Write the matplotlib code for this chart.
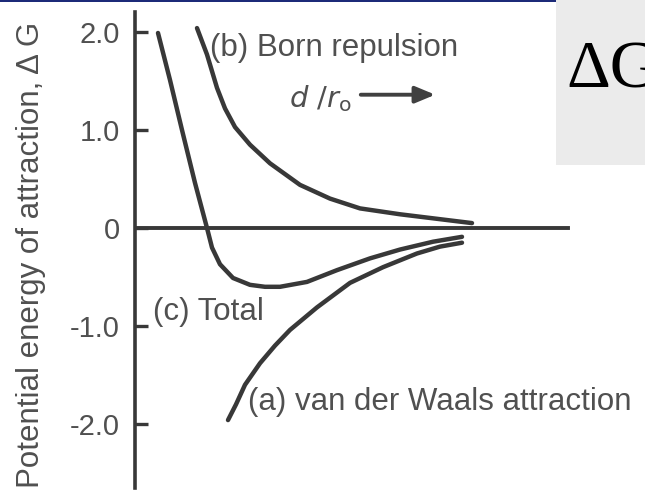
import numpy as np
import matplotlib
matplotlib.use("Agg")
import matplotlib.pyplot as plt
from matplotlib.patches import Rectangle

# curves, read in units of d/r0 (x) and Delta G (y)
total_x = [0.46, 0.70, 0.94, 1.20, 1.44, 1.54, 1.70, 1.96, 2.30, 2.60, 2.90, 3.44, 4.04, 4.70, 5.30, 5.96, 6.54]
total_y = [1.99, 1.51, 1.00, 0.46, 0.00, -0.20, -0.37, -0.51, -0.58, -0.60, -0.60, -0.55, -0.43, -0.31, -0.22, -0.14, -0.09]

vdw_x = [1.86, 2.02, 2.20, 2.50, 2.80, 3.10, 3.64, 4.30, 4.96, 5.64, 6.10, 6.54]
vdw_y = [-1.96, -1.80, -1.60, -1.38, -1.20, -1.04, -0.81, -0.56, -0.40, -0.26, -0.19, -0.15]

born_x = [1.24, 1.44, 1.64, 1.80, 2.00, 2.30, 2.70, 3.30, 3.90, 4.50, 5.30, 6.10, 6.74]
born_y = [2.04, 1.77, 1.43, 1.22, 1.03, 0.85, 0.66, 0.44, 0.30, 0.20, 0.14, 0.09, 0.05]

yticks = [2.0, 1.0, 0.0, -1.0, -2.0]
ytick_labels = ['2.0', '1.0', '0', '-1.0', '-2.0']

ink = '#383838'
txt = '#505050'
fs = 22.5
plt.rcParams['font.family'] = ['Liberation Sans', 'DejaVu Sans']

fig = plt.figure(figsize=(6.45, 5.0), dpi=100)
ax = fig.add_axes([135/645, 12/500, 510/645, 476/500])
ax.set_xlim(0, 10.2)
ax.set_ylim(-2.653, 2.204)

for xs, ys in [(total_x, total_y), (vdw_x, vdw_y), (born_x, born_y)]:
    ax.plot(xs, ys, color=ink, lw=3.2, solid_capstyle='round', solid_joinstyle='round')
ax.plot([0, 8.66], [0, 0], color=ink, lw=2.8)

for s in ['top', 'right', 'bottom']:
    ax.spines[s].set_visible(False)
ax.spines['left'].set_linewidth(2.6)
ax.spines['left'].set_color(ink)
ax.set_xticks([])
ax.set_yticks(yticks)
ax.set_yticklabels(ytick_labels, fontsize=21, color=txt)
ax.tick_params(axis='y', direction='in', length=9, width=2.4, color=ink, pad=11)

ax.set_ylabel('Potential energy of attraction, \u0394 G', fontsize=fs, color=txt)
ax.yaxis.set_label_coords(-0.174, 0.49)

ax.text(1.5, 1.84, '(b) Born repulsion', fontsize=fs, color=txt, va='center')
ax.text(3.08, 1.32, r'$d\ /r_{\rm o}$', fontsize=21, color=txt, va='center')
ax.annotate('', xy=(6.06, 1.36), xytext=(4.46, 1.36),
            arrowprops=dict(arrowstyle='-|>,head_length=1.2,head_width=0.5', color='#404040', lw=2.8))
ax.text(0.36, -0.86, '(c) Total', fontsize=fs, color=txt, va='center')
ax.text(2.26, -1.78, '(a) van der Waals attraction', fontsize=fs, color=txt, va='center')

# slide decorations: navy rule and grey title box
fig.add_artist(Rectangle((0, 1 - 2/500), 556/645, 2/500, transform=fig.transFigure,
                         color='#1c2a78', lw=0))
fig.add_artist(Rectangle((556/645, 1 - 165/500), 89/645, 165/500, transform=fig.transFigure,
                         color='#ebebeb', lw=0))
fig.text(566/645, 1 - 71/500, '\u0394G', fontsize=49, family='Liberation Serif',
         va='center', ha='left', color='black')

fig.savefig('out.png', dpi=100)
